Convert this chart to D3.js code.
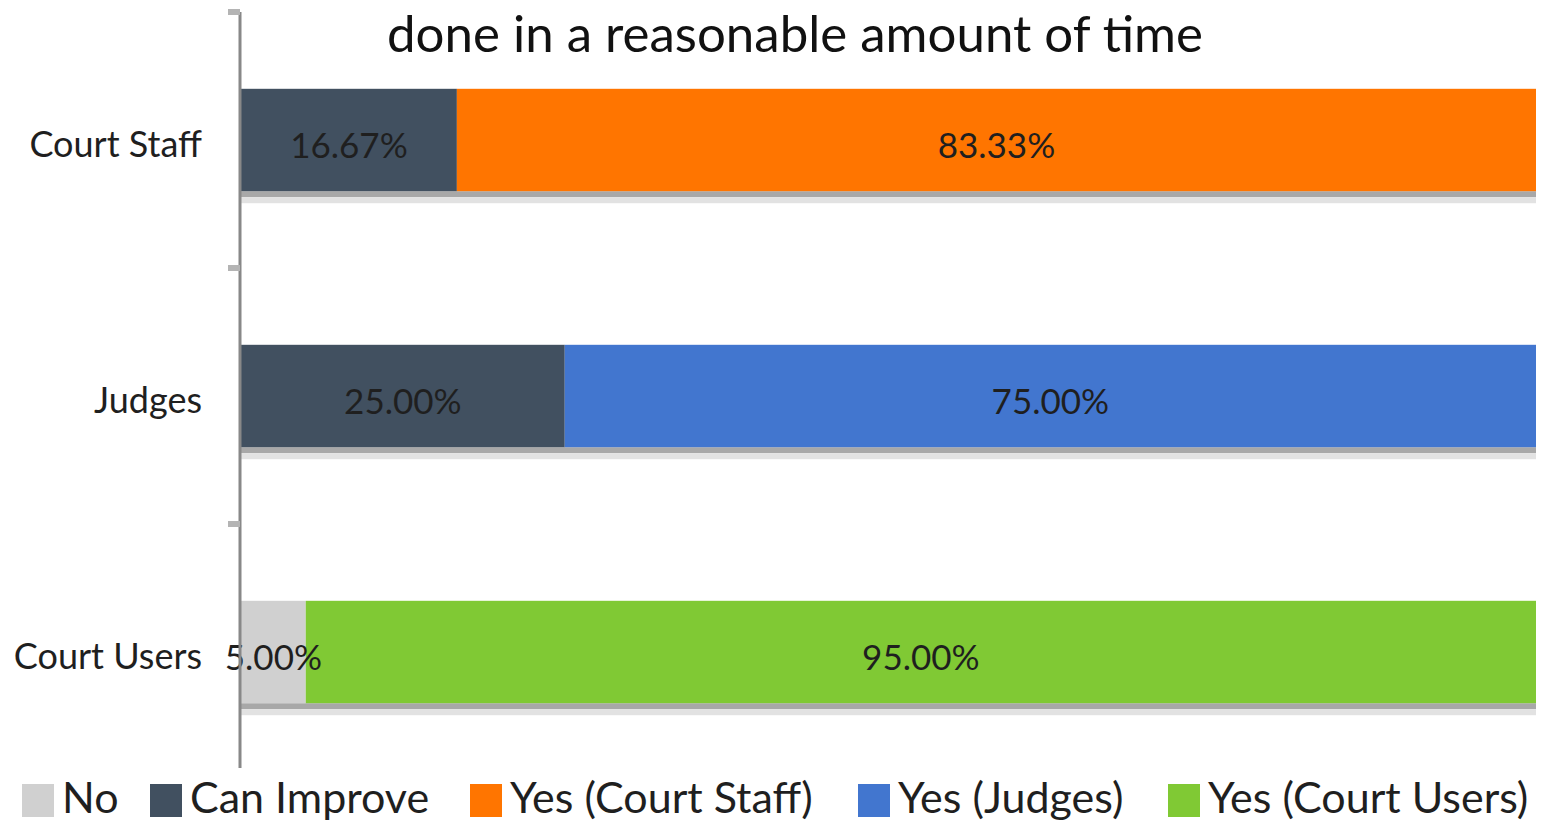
<!DOCTYPE html>
<html lang="en">
<head>
  <meta charset="UTF-8">
  <title>Reasonable amount of time</title>
  <script src="https://d3js.org/d3.v7.min.js"></script>
  <style>
    body {margin: 0; padding: 0; background: #fff; font-family: Lato, "Open Sans", sans-serif;}
    svg {display: block;}
  </style>
</head>
<body>
  <div id="chart"></div>
  <script>
    const categories = ["Court Staff", "Judges", "Court Users"];
    const seriesNames = ["No", "Can Improve", "Yes (Court Staff)", "Yes (Judges)", "Yes (Court Users)"];
    const seriesColors = ["#d0d0d0", "#415060", "#ff7500", "#4276cf", "#80c934"];
    // values per category, in series order
    const noValues = [0, 0, 5.00];
    const improveValues = [16.67, 25.00, 0];
    const yesStaff = [83.33, 0, 0];
    const yesJudges = [0, 75.00, 0];
    const yesUsers = [0, 0, 95.00];
    const title = "done in a reasonable amount of time";

    const W = 1553, H = 823;
    const svg = d3.select("#chart").append("svg")
      .attr("width", W).attr("height", H);

    const x = d3.scaleLinear().domain([0, 100]).range([241, 1536]);
    const y = d3.scaleBand().domain(categories).range([12, 780]).paddingInner(0.6).paddingOuter(0.3);

    const rows = categories.map((c, i) => ({
      cat: c,
      vals: [noValues[i], improveValues[i], yesStaff[i], yesJudges[i], yesUsers[i]]
    }));
    const stacked = d3.stack().keys(d3.range(5)).value((d, k) => d.vals[k])(rows);

    // shadows
    svg.append("g").selectAll("rect").data(rows).join("rect")
      .attr("x", x(0)).attr("y", d => y(d.cat) + y.bandwidth())
      .attr("width", x(100) - x(0)).attr("height", 6)
      .attr("fill", "#a8a8a8");
    svg.append("g").selectAll("rect").data(rows).join("rect")
      .attr("x", x(0)).attr("y", d => y(d.cat) + y.bandwidth() + 6)
      .attr("width", x(100) - x(0)).attr("height", 6)
      .attr("fill", "#e2e2e2");

    const layer = svg.append("g").selectAll("g").data(stacked).join("g")
      .attr("fill", (d, i) => seriesColors[i]);
    layer.selectAll("rect").data(d => d.filter(p => p[1] > p[0])).join("rect")
      .attr("x", d => x(d[0])).attr("y", d => y(d.data.cat))
      .attr("width", d => x(d[1]) - x(d[0])).attr("height", y.bandwidth());

    // value labels
    const labels = [];
    stacked.forEach(s => s.forEach(p => { if (p[1] > p[0]) labels.push(p); }));
    svg.append("g").selectAll("text").data(labels).join("text")
      .attr("x", d => (x(d[0]) + x(d[1])) / 2)
      .attr("y", d => y(d.data.cat) + y.bandwidth() / 2 + 18)
      .attr("text-anchor", "middle")
      .attr("font-size", 35).attr("fill", "#1f1f1f")
      .text(d => (d[1] - d[0]).toFixed(2) + "%");

    // axis
    const axisG = svg.append("g").attr("transform", `translate(${x(0) - 1},5)`);
    axisG.call(d3.axisLeft(y).tickSize(0).tickPadding(38));
    axisG.select(".domain").remove();
    axisG.selectAll("text").attr("font-size", 36).attr("fill", "#1f1f1f")
      .attr("font-family", "Lato, 'Open Sans', sans-serif");
    svg.append("line").attr("x1", 240).attr("x2", 240).attr("y1", 12).attr("y2", 768)
      .attr("stroke", "#888").attr("stroke-width", 3);
    const bounds = [12, ...categories.slice(1).map(c => y(c) - y.step() * y.paddingInner() / 2)];
    svg.append("g").selectAll("line").data(bounds).join("line")
      .attr("x1", 228).attr("x2", 240).attr("y1", d => d).attr("y2", d => d)
      .attr("stroke", "#b4b4b4").attr("stroke-width", 6);

    // title
    svg.append("text").attr("x", 795).attr("y", 52).attr("text-anchor", "middle")
      .attr("font-size", 51).attr("fill", "#111").text(title);

    // legend
    const legendX = [22, 150, 470, 858, 1168];
    const lg = svg.append("g").selectAll("g").data(seriesNames).join("g")
      .attr("transform", (d, i) => `translate(${legendX[i]},0)`);
    lg.append("rect").attr("x", 0).attr("y", 784).attr("width", 32).attr("height", 33)
      .attr("fill", (d, i) => seriesColors[i]);
    lg.append("text").attr("x", 40).attr("y", 813).attr("font-size", 43).attr("fill", "#1f1f1f")
      .text(d => d);
  </script>
</body>
</html>
